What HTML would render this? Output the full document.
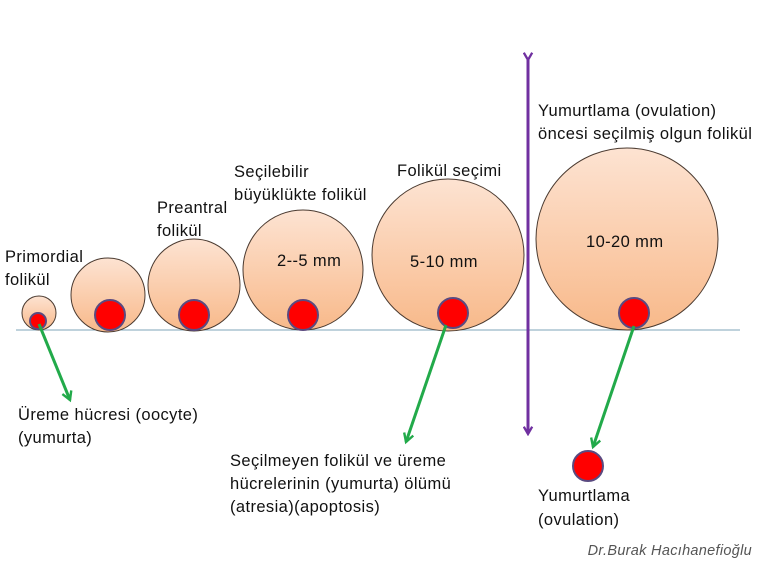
<!DOCTYPE html>
<html><head><meta charset="utf-8"><style>
html,body{margin:0;padding:0;background:#fff;}
svg{display:block;}
text{font-family:"Liberation Sans",sans-serif;font-size:16.5px;letter-spacing:0.4px;fill:#111;}
</style></head><body>
<svg width="768" height="576" viewBox="0 0 768 576" xmlns="http://www.w3.org/2000/svg">
<defs>
<linearGradient id="g" x1="0" y1="0" x2="0" y2="1">
<stop offset="0" stop-color="#fde3d2"/><stop offset="1" stop-color="#f8b98a"/>
</linearGradient>
<marker id="ag" viewBox="0 0 10 10" refX="8" refY="5" markerWidth="4" markerHeight="4" orient="auto"><path d="M1,1 L8,5 L1,9" fill="none" stroke="#22aa4a" stroke-width="2"/></marker>
<marker id="ap" viewBox="0 0 10 10" refX="8" refY="5" markerWidth="3.5" markerHeight="3.5" orient="auto"><path d="M1,1 L8,5 L1,9" fill="none" stroke="#7030a0" stroke-width="2.2"/></marker>
</defs>
<line x1="16" y1="330" x2="740" y2="330" stroke="#7fa6b8" stroke-width="1"/>
<g stroke="#4a3a30" stroke-width="1" fill="url(#g)">
<circle cx="39" cy="313" r="17"/>
<circle cx="108" cy="295" r="37"/>
<circle cx="194" cy="285" r="46"/>
<circle cx="303" cy="270" r="60"/>
<circle cx="448" cy="255" r="76"/>
<circle cx="627" cy="239" r="91"/>
</g>
<g fill="#ff0000" stroke="#5a4a80" stroke-width="2">
<circle cx="38" cy="321" r="8"/>
<circle cx="110" cy="315" r="15"/>
<circle cx="194" cy="315" r="15"/>
<circle cx="303" cy="315" r="15"/>
<circle cx="453" cy="313" r="15"/>
<circle cx="634" cy="313" r="15"/>
<circle cx="588" cy="466" r="15"/>
</g>
<line x1="528" y1="60" x2="528" y2="434" stroke="#7030a0" stroke-width="3" marker-start="url(#ap)" marker-end="url(#ap)"/>
<g stroke="#22aa4a" stroke-width="3" marker-end="url(#ag)">
<line x1="39" y1="324" x2="70" y2="400"/>
<line x1="446" y1="325" x2="406" y2="442"/>
<line x1="634" y1="326" x2="593" y2="447"/>
</g>
<text x="5" y="262">Primordial</text><text x="5" y="285">folikül</text>
<text x="157" y="213">Preantral</text><text x="157" y="236">folikül</text>
<text x="234" y="177">Seçilebilir</text><text x="234" y="200">büyüklükte folikül</text>
<text x="397" y="176">Folikül  seçimi</text>
<text x="538" y="116">Yumurtlama (ovulation)</text><text x="538" y="139">öncesi seçilmiş olgun folikül</text>
<text x="277" y="266">2--5 mm</text>
<text x="410" y="267">5-10 mm</text>
<text x="586" y="247">10-20 mm</text>
<text x="18" y="420">Üreme hücresi (oocyte)</text><text x="18" y="443">(yumurta)</text>
<text x="230" y="466">Seçilmeyen  folikül ve üreme</text><text x="230" y="489">hücrelerinin (yumurta) ölümü</text><text x="230" y="512">(atresia)(apoptosis)</text>
<text x="538" y="501">Yumurtlama</text><text x="538" y="525">(ovulation)</text>
<text x="752" y="555" text-anchor="end" style="font-style:italic;font-size:14.5px;letter-spacing:0.3px;fill:#555">Dr.Burak  Hacıhanefioğlu</text>
</svg>
</body></html>
